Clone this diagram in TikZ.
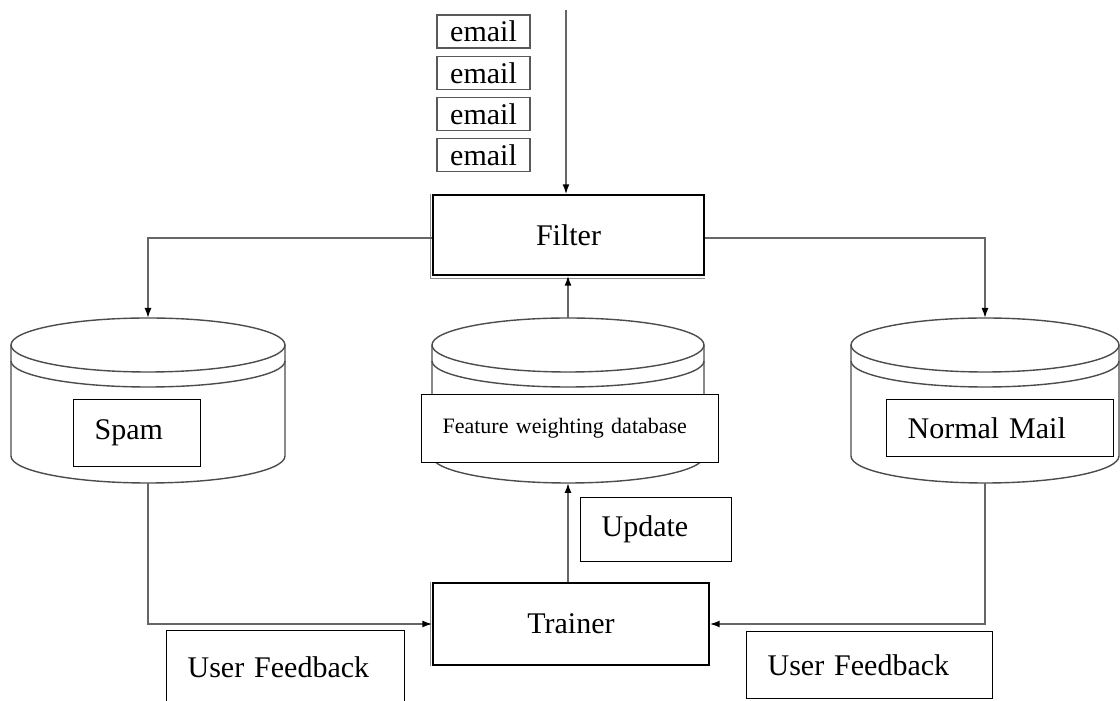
\documentclass[tikz,border=0pt]{standalone}
\usepackage{fontspec}
\setmainfont{Liberation Serif}
\usepackage{tikz}
\usetikzlibrary{arrows.meta}

\tikzset{
  mail/.style={draw=black!65, line width=0.8pt, minimum width=46.5pt, minimum height=16.5pt, inner sep=0pt, font=\fontsize{15}{18}\selectfont},
  unit/.style={draw, fill=white, line width=0.7pt, font=\fontsize{15}{18}\selectfont},
  tag/.style={draw, fill=white, line width=0.6pt, anchor=north west, align=left, inner xsep=10.5pt, inner ysep=0pt, font=\fontsize{15}{18}\selectfont},
  flow/.style={draw=black!60, line width=0.8pt, -{Latex[length=5pt,width=3.5pt,color=black]}},
  drum/.style={draw=black!70, line width=0.7pt}
}

\begin{document}
\begin{tikzpicture}[x=0.5pt,y=0.5pt]
\useasboundingbox (0,0) rectangle (1120,701);
%% incoming mails
\foreach \i/\yy in {1/669.5, 2/628, 3/587, 4/546}
  \node[mail] (mail\i) at (483.5,\yy) {email};
\coordinate (feed) at (566,691);
%% filter and trainer
\node[unit, minimum width=135.5pt, minimum height=40pt] (filter) at (568.5,466) {Filter};
\node[unit, minimum width=138pt, minimum height=41pt] (trainer) at (571,77) {Trainer};
\draw[black!45, line width=0.7pt] ([xshift=-1pt]filter.north west) |- ([yshift=-1.5pt]filter.south east);
\draw[black!45, line width=0.7pt] ([xshift=-1pt]trainer.north west) -- ([xshift=-1pt]trainer.south west);
%% the three stores
\foreach \cx/\rx/\nm in {148/137/spam, 568/136/db, 985/134/norm}{
  \draw[drum] (\cx,356) ellipse ({\rx} and 27);
  \draw[drum] (\cx-\rx,340) arc (180:360:{\rx} and 26);
  \draw[drum] (\cx-\rx,356) -- (\cx-\rx,245) arc (180:360:{\rx} and 27) -- (\cx+\rx,356);
  \coordinate (\nm top) at (\cx,383);
  \coordinate (\nm bot) at (\cx,218);
}
\node[tag, text width=42.5pt, minimum height=33.5pt] (spam) at (73,302) {Spam};
\node[tag, text width=127.5pt, minimum height=34pt, font=\fontsize{11}{13}\selectfont] (fwdb) at (421,307) {Feature weighting database};
\node[tag, text width=92.5pt, minimum height=28.5pt] (normal) at (886,302) {Normal Mail};
\node[tag, text width=54.5pt, minimum height=32pt] (update) at (580,204) {Update};
\node[tag, text width=98pt, minimum height=37pt] (fbleft) at (166,71) {User Feedback};
\node[tag, text width=102pt, minimum height=33.5pt] (fbright) at (746,70) {User Feedback};
%% connectors
\draw[flow] (feed) -- (feed |- filter.north);
\draw[flow] ([yshift=-1.5pt]filter.west) -| (spamtop);
\draw[flow] ([yshift=-1.5pt]filter.east) -| (normtop);
\draw[flow] (dbtop) -- (dbtop |- filter.south);
\draw[flow] (trainer.north -| dbbot) -- (dbbot);
\draw[flow] (spambot) |- (trainer.west);
\draw[flow] (normbot) |- (trainer.east);
\end{tikzpicture}
\end{document}
